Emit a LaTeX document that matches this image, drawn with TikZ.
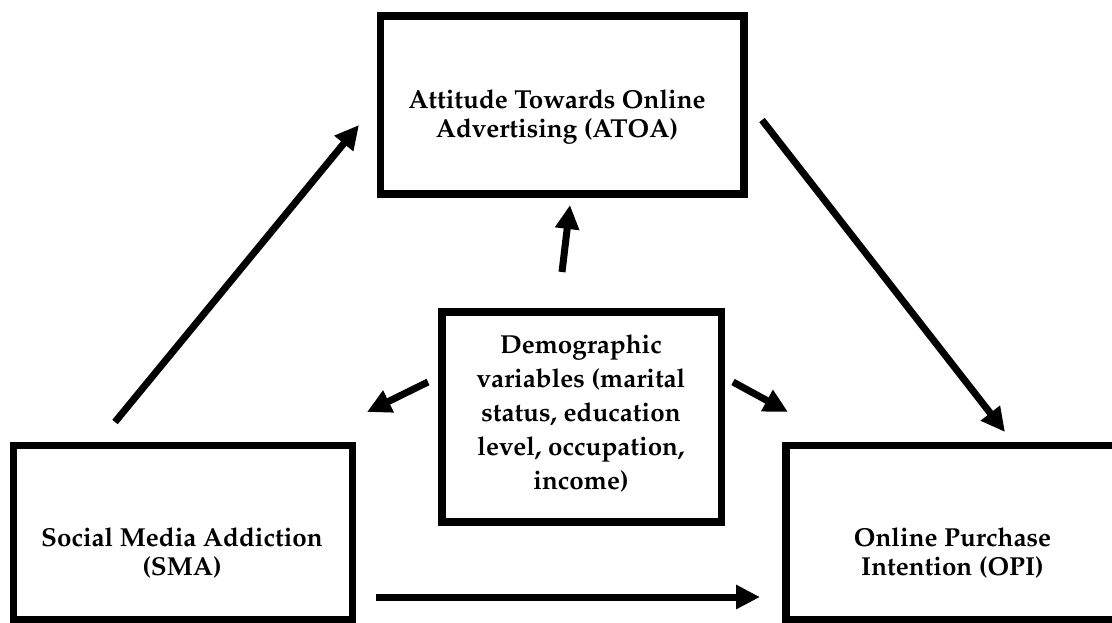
\documentclass[tikz,border=0pt]{standalone}
\usepackage[T1]{fontenc}
\usepackage{mathpazo}
\usetikzlibrary{arrows.meta}
\tikzset{
  box/.style={draw=black, line width=7.5pt, fill=white, inner sep=0pt},
  lbl/.style={font=\fontsize{26}{29}\selectfont\bfseries, align=center, inner sep=0pt},
  arr/.style={line width=7pt, -{Triangle[length=24pt,width=23pt]}}
}
\begin{document}
\begin{tikzpicture}[x=1pt,y=-1pt]
\useasboundingbox (0,0) rectangle (1112,623);
% boxes
\node[box, minimum width=363.5pt, minimum height=178pt] (atoa) at (562,105) {};
\node[box, minimum width=339pt, minimum height=174.5pt] (sma) at (183,532.75) {};
\node[box, minimum width=339pt, minimum height=174.5pt] (opi) at (955.5,532.75) {};
\node[box, minimum width=279.5pt, minimum height=210pt] (demo) at (581.75,417) {};
% labels
\node[lbl] (atoaT) at (557,116.5) {Attitude Towards Online\\Advertising (ATOA)};
\node[lbl] (smaT) at (182,553) {Social Media Addiction\\(SMA)};
\node[lbl] (opiT) at (952.5,553) {Online Purchase\\Intention (OPI)};
\node[lbl, font=\fontsize{26}{34}\selectfont\bfseries] (demoT) at (581,414) {Demographic\\variables (marital\\status, education\\level, occupation,\\income)};
% connector end points
\coordinate (a1) at (115,422);
\coordinate (a2) at (359,125);
\coordinate (b1) at (762,120);
\coordinate (b2) at (1005,432);
\coordinate (c1) at (562,272);
\coordinate (c2) at (570,205);
\coordinate (d1) at (428,382);
\coordinate (d2) at (367,412);
\coordinate (e1) at (733,382);
\coordinate (e2) at (788,412);
\coordinate (f1) at (376,597);
\coordinate (f2) at (760,597);
% connectors
\draw[arr] (a1) -- (a2);
\draw[arr] (b1) -- (b2);
\draw[arr] (c1) -- (c2);
\draw[arr] (d1) -- (d2);
\draw[arr] (e1) -- (e2);
\draw[arr] (f1) -- (f2);
\end{tikzpicture}
\end{document}
